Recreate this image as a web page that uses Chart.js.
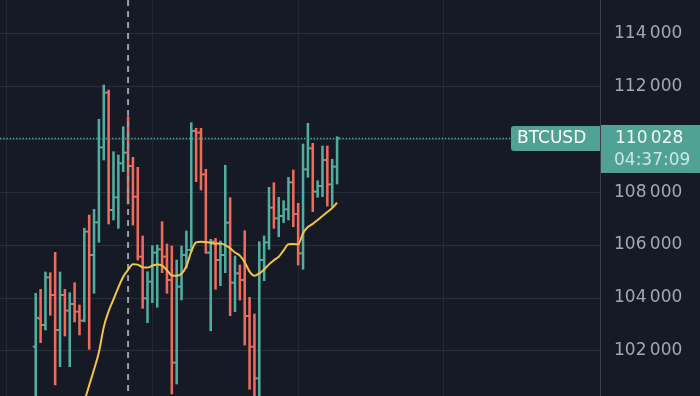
<!DOCTYPE html>
<html>
<head>
<meta charset="utf-8">
<script src="https://cdn.jsdelivr.net/npm/chart.js@4.4.1/dist/chart.umd.min.js"></script>
<style>
  html, body { margin: 0; padding: 0; background: #161a25; }
  #wrap { width: 700px; height: 396px; position: relative; }
</style>
</head>
<body>
<div id="wrap"><canvas id="c"></canvas></div>
<script>
// ---- data ----
const symbol = 'BTCUSD';
const countdown = '04:37:09';
const markerIndex = 19;
const yTicks = [102000, 104000, 106000, 108000, 110000, 112000, 114000];
const xGridTicks = [-6, 24, 54, 84];

const open = [102161,103218,102980,104783,104114,102792,104114,103521,103774,103483,
  103143,106505,105625,106860,109694,111757,107325,107805,109090,109490,
  108987,107828,105561,103989,104616,105712,105840,105561,104681,101556,
  104428,105625,105814,110310,110250,108674,105712,106128,105436,105625,
  106845,104579,104934,104681,103320,102161,100967,105436,106105,107412,
  107012,107098,107352,108372,107174,105689,108863,109656,108017,108232,
  109214,108296,108961];
const high = [104178,104329,104983,104957,105727,104983,104329,104201,104579,103736,
  106634,107136,107352,110752,112048,111859,109528,109403,110472,110850,
  109316,108938,106343,104994,105976,106003,106883,106041,105965,105436,
  105965,106532,110623,110412,110412,108863,106218,106256,106154,109014,
  107790,105587,105247,106543,104027,103396,106128,106343,108183,108357,
  107805,107677,108561,108836,107578,109819,110601,109845,108432,109743,
  109743,109241,110094];
const low = [100000,102312,102792,103347,100714,101405,102565,101405,103094,102603,
  103100,102062,104178,106105,109214,106796,106947,106634,108772,107552,
  106758,105436,103611,103067,103823,103649,104957,104178,100374,100751,
  103925,105134,105750,108394,108081,105689,102765,104329,104465,104957,
  103332,103483,103925,102225,100551,100000,100100,104654,105840,106634,
  106316,106845,106947,106694,105247,105085,108561,107261,107805,107828,
  107476,107450,108307];
const close = [103256,102980,104783,104114,102792,104114,103521,103774,103483,103143,
  106505,105625,106860,109694,111757,107325,107805,109090,109490,108987,
  107828,105561,103989,104616,105712,105840,105561,104681,101556,104428,
  105625,105814,110310,110250,108674,105712,106128,105436,105625,106845,
  104579,104934,104681,103320,102161,100967,105436,106105,107412,107012,
  107098,107352,108372,107174,105689,108863,109656,108017,108232,109214,
  108296,108961,110028];
const ma = [null,null,null,null,null,null,null,null,null,99550,
  100100,100700,101300,101950,102900,103500,103950,104400,104800,105060,
  105280,105260,105160,105150,105220,105270,105220,105050,104850,104840,
  104920,105200,105750,106100,106130,106110,106090,106050,106060,106000,
  105880,105720,105600,105350,105000,104840,104930,105080,105270,105430,
  105560,105800,106030,106040,106030,106450,106680,106800,106950,107100,
  107250,107400,107600];

// ---- styles ----
const UP = '#4fae9f';
const DOWN = '#ee6a5d';
const LABEL_BG = '#50a295';
const FONT = '"DejaVu Sans", sans-serif';

const fmt = v => String(Math.round(v)).replace(/\B(?=(\d{3})+(?!\d))/g, '\u2009');
const barColors = close.map((c, i) => c >= open[i] ? UP : DOWN);

const overlay = {
  id: 'overlay',
  afterDatasetDraw(chart, args) {
    if (args.index !== 1) return;
    const { ctx, chartArea: a, scales: { x, y } } = chart;
    ctx.save();
    ctx.beginPath();
    ctx.rect(a.left, a.top, a.right - a.left, a.bottom - a.top);
    ctx.clip();
    ctx.lineWidth = 1.8;
    for (let i = 0; i < open.length; i++) {
      const xp = x.getPixelForValue(i);
      const yo = y.getPixelForValue(open[i]);
      const yc = y.getPixelForValue(close[i]);
      ctx.strokeStyle = barColors[i];
      ctx.beginPath();
      ctx.moveTo(xp - 3, yo); ctx.lineTo(xp, yo);
      ctx.moveTo(xp, yc); ctx.lineTo(xp + 3, yc);
      ctx.stroke();
    }
    const mx = x.getPixelForValue(markerIndex);
    ctx.strokeStyle = '#9a9da6';
    ctx.lineWidth = 2;
    ctx.setLineDash([6, 5]);
    ctx.beginPath();
    ctx.moveTo(mx, a.top); ctx.lineTo(mx, a.bottom);
    ctx.stroke();
    ctx.restore();
  },
  afterDraw(chart) {
    const { ctx, chartArea: a, scales: { y } } = chart;
    const last = close[close.length - 1];
    const py = y.getPixelForValue(last);
    const boxL = 511;
    ctx.save();
    ctx.strokeStyle = LABEL_BG;
    ctx.lineWidth = 1.5;
    ctx.setLineDash([1.4, 1.8]);
    ctx.beginPath();
    ctx.moveTo(a.left, py); ctx.lineTo(boxL, py);
    ctx.stroke();
    ctx.setLineDash([]);
    ctx.fillStyle = LABEL_BG;
    ctx.beginPath();
    ctx.roundRect(boxL, py - 12.5, a.right - boxL, 25, [3, 0, 0, 3]);
    ctx.fill();
    ctx.fillStyle = '#ffffff';
    ctx.font = '17px ' + FONT;
    ctx.textBaseline = 'middle';
    ctx.textAlign = 'left';
    ctx.fillText(symbol, boxL + 6, py + 0.5);
    ctx.fillStyle = LABEL_BG;
    ctx.fillRect(a.right + 1, py - 13.5, chart.width - a.right - 1, 48);
    ctx.fillStyle = '#f2f7f6';
    ctx.fillText(fmt(last), 615, py + 0.5);
    ctx.fillStyle = '#cfe6e1';
    ctx.fillText(countdown, 614, py + 22);
    ctx.restore();
  }
};

new Chart(document.getElementById('c'), {
  data: {
    datasets: [
      {
        type: 'line',
        data: ma.map((v, i) => ({ x: i, y: v })),
        borderColor: '#f6c445',
        borderWidth: 2,
        pointRadius: 0,
        tension: 0.4,
        cubicInterpolationMode: 'monotone',
        spanGaps: false,
        fill: false
      },
      {
        type: 'bar',
        data: high.map((h, i) => ({ x: i, y: [low[i], h] })),
        backgroundColor: barColors,
        borderWidth: 0,
        barThickness: 1.9,
        grouped: false
      }
    ]
  },
  options: {
    responsive: true,
    maintainAspectRatio: false,
    animation: false,
    events: [],
    layout: { padding: 0, autoPadding: false },
    plugins: { legend: { display: false }, tooltip: { enabled: false } },
    scales: {
      x: {
        type: 'linear',
        offset: false,
        min: -7.35,
        max: 116.1,
        afterBuildTicks: s => { s.ticks = xGridTicks.map(v => ({ value: v })); },
        afterFit: s => { s.height = 0; s.paddingLeft = 0; s.paddingRight = 0; },
        ticks: { display: false },
        grid: { color: '#252935', lineWidth: 1, drawTicks: false, offset: false },
        border: { display: false }
      },
      y: {
        position: 'right',
        min: 100298,
        max: 115259,
        afterBuildTicks: s => { s.ticks = yTicks.map(v => ({ value: v })); },
        afterFit: s => { s.width = 100; s.paddingTop = 0; s.paddingBottom = 0; },
        ticks: {
          padding: 14,
          color: '#a4a7b0',
          font: { family: FONT, size: 17 },
          callback: v => fmt(v)
        },
        grid: { color: '#2a2e3a', lineWidth: 1, drawTicks: false },
        border: { display: true, color: '#3c404b', width: 1 }
      }
    }
  },
  plugins: [overlay]
});
</script>
</body>
</html>
